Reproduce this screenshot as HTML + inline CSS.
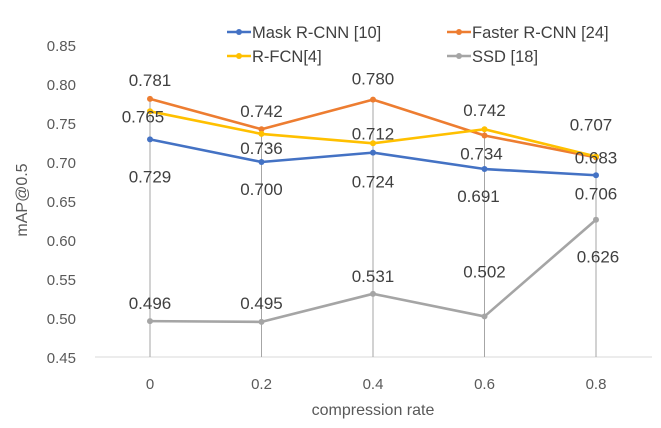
<!DOCTYPE html>
<html><head><meta charset="utf-8"><style>
body{margin:0;background:#fff}
svg{font-family:"Liberation Sans",sans-serif}
</style></head><body>
<svg id="c" width="661" height="423"></svg>
<script>
const categories=["0","0.2","0.4","0.6","0.8"];
const seriesNames=["Mask R-CNN [10]","Faster R-CNN [24]","R-FCN[4]","SSD [18]"];
const maskValues=[0.729,0.700,0.712,0.691,0.683];
const fasterValues=[0.781,0.742,0.780,0.734,0.706];
const rfcnValues=[0.765,0.736,0.724,0.742,0.707];
const ssdValues=[0.496,0.495,0.531,0.502,0.626];
const yTicks=[0.45,0.50,0.55,0.60,0.65,0.70,0.75,0.80,0.85];
const series=[maskValues,fasterValues,rfcnValues,ssdValues];
const colors=["#4472C4","#ED7D31","#FFC000","#A5A5A5"];
const labelOff=[
 [[0,37],[0,27],[0,-19],[-6,27],[0,-18]],
 [[0,-19],[0,-18],[0,-21],[-3,18],[0,36]],
 [[-7,5],[0,14],[0,38],[0,-19],[-5,-32]],
 [[0,-18],[0,-19],[0,-18],[0,-45],[2,37]]];
const svg=document.getElementById('c');
const NS='http://www.w3.org/2000/svg';
const x=i=>150+i*111.5;
const y=v=>357-(v-0.45)*780;
function mk(t,a,p){const e=document.createElementNS(NS,t);for(const k in a)e.setAttribute(k,a[k]);(p||svg).appendChild(e);return e;}
yTicks.forEach(v=>{const t=mk('text',{x:76,y:y(v)+6,'text-anchor':'end','font-size':15,fill:'#595959'});t.textContent=v.toFixed(2);

});
const ax=mk('line',{x1:95,x2:652,y1:357,y2:357,stroke:'#d9d9d9','stroke-width':1});


categories.forEach((c,i)=>{const t=mk('text',{x:x(i),y:389,'text-anchor':'middle','font-size':15,fill:'#595959'});t.textContent=c;


const mx=Math.max(...series.map(s=>s[i]));
const d=mk('line',{x1:x(i),x2:x(i),y1:y(mx),y2:357,stroke:'#a6a6a6','stroke-width':1});

});
series.forEach((s,k)=>{
 const p=mk('polyline',{points:s.map((v,i)=>x(i)+','+y(v)).join(' '),fill:'none',stroke:colors[k],'stroke-width':2.6,'stroke-linejoin':'round'});
 
 
 s.forEach((v,i)=>{const m=mk('circle',{cx:x(i),cy:y(v),r:3,fill:colors[k]});
 
 });
});
series.forEach((s,k)=>s.forEach((v,i)=>{const o=labelOff[k][i];
 const t=mk('text',{x:x(i)+o[0],y:y(v)+o[1]+6,'text-anchor':'middle','font-size':17,fill:'#404040'});t.textContent=v.toFixed(3);
 
 }));
const lp=[[227,32],[447,32],[227,56],[447,56]];
seriesNames.forEach((n,k)=>{const g=mk('g',{});
 
 
 mk('line',{x1:lp[k][0],x2:lp[k][0]+24,y1:lp[k][1],y2:lp[k][1],stroke:colors[k],'stroke-width':2.6},g);
 mk('circle',{cx:lp[k][0]+12,cy:lp[k][1],r:3,fill:colors[k]},g);
 const t=mk('text',{x:lp[k][0]+25,y:lp[k][1]+6,'font-size':16.5,fill:'#404040'},g);t.textContent=n;});
const xt=mk('text',{x:373,y:415,'text-anchor':'middle','font-size':16,fill:'#595959'});xt.textContent='compression rate';


const yt=mk('text',{x:0,y:0,transform:'translate(27,200) rotate(-90)','text-anchor':'middle','font-size':16,fill:'#595959'});yt.textContent='mAP@0.5';


</script>
</body></html>
